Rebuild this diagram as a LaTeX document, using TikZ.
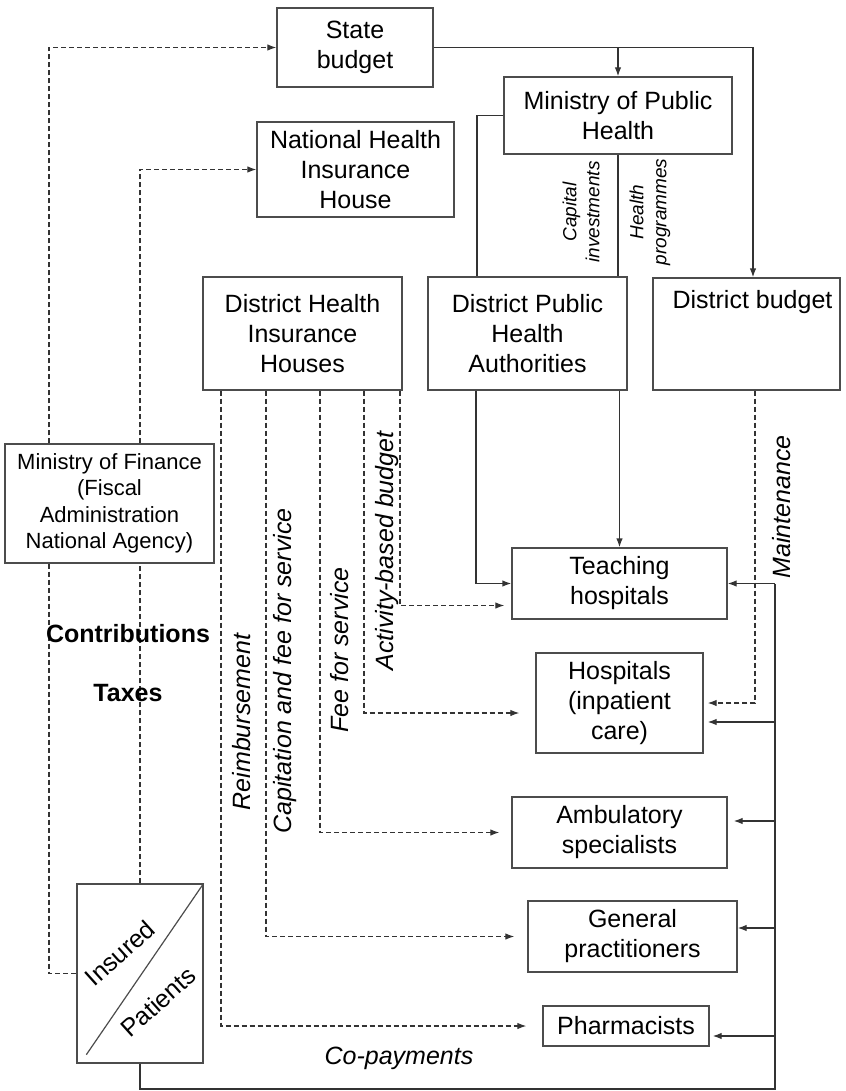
\documentclass[tikz,border=0pt]{standalone}
\usepackage{fontspec}
\setmainfont{Liberation Sans}
\usetikzlibrary{arrows.meta}
\begin{document}
\begin{tikzpicture}[x=1pt,y=-1pt,
  box/.style={draw=black!70, line width=1.3pt, inner sep=0pt, align=center, font=\fontsize{25}{30}\selectfont},
  sol/.style={draw=black!80, line width=1.3pt},
  dsh/.style={draw=black!80, line width=1.2pt, dash pattern=on 5pt off 3pt},
  arr/.style={-{Latex[length=9pt,width=6.5pt]}},
  lab/.style={font=\fontsize{25}{30}\selectfont\itshape, inner sep=0pt},
  smalllab/.style={font=\fontsize{19}{23}\selectfont\itshape, inner sep=0pt, align=center},
  boldlab/.style={font=\fontsize{25}{30}\selectfont\bfseries, inner sep=0pt},
]
\useasboundingbox (0,0) rectangle (845,1091);

% boxes
\node[box, minimum width=156, minimum height=79] (state) at (355,47.5) {State\\budget};
\node[box, minimum width=228, minimum height=77] (min) at (618,115.5) {Ministry of Public\\Health};
\node[box, minimum width=197, minimum height=95] (nhih) at (355.5,169.5) {National Health\\Insurance\\House};
\node[box, minimum width=199, minimum height=113] (dhih) at (302.5,333.5) {District Health\\Insurance\\Houses};
\node[box, minimum width=199, minimum height=113] (dpha) at (527.5,333.5) {District Public\\Health\\Authorities};
\node[box, minimum width=187, minimum height=112] (db) at (746.5,334) {};
\node[font=\fontsize{25}{30}\selectfont, inner sep=0pt, anchor=north] (dbt) at ([xshift=6pt,yshift=-13pt]db.north) {District budget};
\node[box, minimum width=209, minimum height=119, font=\fontsize{22}{26.5}\selectfont] (mof) at (109.5,503.5) {Ministry of Finance\\(Fiscal\\Administration\\National Agency)};
\node[box, minimum width=215, minimum height=71] (teach) at (619.5,583.5) {Teaching\\hospitals};
\node[box, minimum width=167, minimum height=100] (hosp) at (619.5,703) {Hospitals\\(inpatient\\care)};
\node[box, minimum width=215, minimum height=71] (amb) at (619.5,832.5) {Ambulatory\\specialists};
\node[box, minimum width=209, minimum height=71] (gp) at (632.5,936.5) {General\\practitioners};
\node[box, minimum width=166, minimum height=40] (pharm) at (626,1026) {Pharmacists};
\node[box, minimum width=126, minimum height=179] (ins) at (140,973.5) {};
\draw[draw=black!70, line width=1.2pt] ([xshift=10pt,yshift=9pt]ins.south west) -- (ins.north east);
\node[font=\fontsize{25}{30}\selectfont, inner sep=0pt, rotate=42] (insured) at (120,953) {Insured};
\node[font=\fontsize{25}{30}\selectfont, inner sep=0pt, rotate=42] (patients) at (158,1002) {Patients};

% helper coordinates
\coordinate (rt) at (775,583.5);
\coordinate (rb) at (775,1089);
\coordinate (h2) at ([yshift=-19pt]hosp.east);
\coordinate (a2) at ([yshift=11.5pt]amb.east);
\coordinate (g2) at ([yshift=8.5pt]gp.east);
\coordinate (p2) at ([yshift=-10pt]pharm.east);

% solid connectors
\draw[sol,arr] (state.east) -| ([xshift=6.5pt]db.north);
\draw[sol,arr] (state.east -| min.north) -- (min.north);
\draw[sol] (min.west) -| ([xshift=-50.5pt]dpha.north);
\draw[sol] (min.south) -- (min.south |- dpha.north);
\draw[sol,arr] ([xshift=-51.5pt]dpha.south) |- (teach.west);
\draw[sol,arr] (dpha.south -| teach.north) -- (teach.north);
\draw[sol] (ins.south) |- (rb) -- (rt);
\draw[sol,arr] (rt) -- (teach.east);
\draw[sol,arr,shorten >=4pt] (h2 -| rt) -- (h2);
\draw[sol,arr,shorten >=6pt] (a2 -| rt) -- (a2);
\draw[sol,arr] (g2 -| rt) -- (g2);
\draw[sol,arr,shorten >=3pt] (p2 -| rt) -- (p2);

% dashed connectors
\draw[dsh,arr] ([xshift=-60.5pt]mof.north) |- (state.west);
\draw[dsh,arr] ([xshift=30.5pt]mof.north) |- (nhih.west);
\draw[dsh] ([xshift=-60.5pt]mof.south) |- (ins.west);
\draw[dsh] (ins.north) -- (ins.north |- mof.south);
\draw[dsh,arr,shorten >=16pt] ([xshift=-81.5pt]dhih.south) |- (pharm.west);
\draw[dsh,arr,shorten >=13pt] ([xshift=-36.5pt]dhih.south) |- (gp.west);
\draw[dsh,arr,shorten >=12pt] ([xshift=17.5pt]dhih.south) |- (amb.west);
\draw[dsh,arr,shorten >=16pt] ([xshift=61.5pt]dhih.south) |- ([yshift=-10pt]hosp.west);
\draw[dsh,arr,shorten >=7pt] ([xshift=97.5pt]dhih.south) |- ([yshift=-22pt]teach.west);
\draw[dsh,arr,shorten >=4pt] ([xshift=8.5pt]db.south) |- (hosp.east);

% labels
\node[smalllab, rotate=90] (capl) at (581,212) {Capital\\investments};
\node[smalllab, rotate=90] (hpl) at (650,212) {Health\\programmes};
\node[lab, rotate=90] (reimb) at (242,722) {Reimbursement};
\node[lab, rotate=90] (capfee) at (285,671) {Capitation and fee for service};
\node[lab, rotate=90] (fee) at (340,650) {Fee for service};
\node[lab, rotate=90] (act) at (387,551) {Activity-based budget};
\node[lab, rotate=90] (maint) at (782,507) {Maintenance};
\node[lab] (copay) at (399,1058) {Co-payments};
\node[boldlab] (contr) at (128,634) {Contributions};
\node[boldlab] (taxes) at (128,693) {Taxes};
\end{tikzpicture}
\end{document}
